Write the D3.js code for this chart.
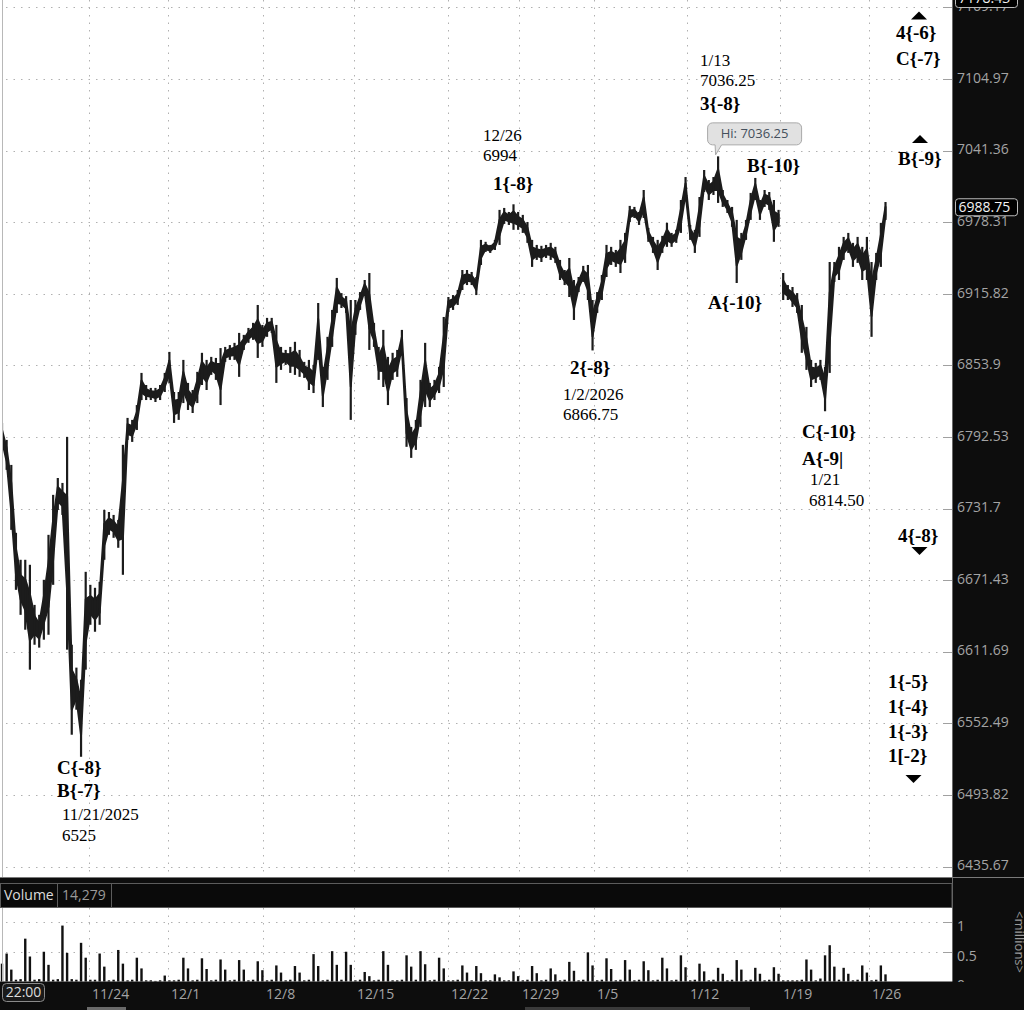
<!DOCTYPE html>
<html><head><meta charset="utf-8">
<script src="https://cdn.jsdelivr.net/npm/d3@7"></script>
<style>html,body{margin:0;padding:0;background:#0d0d0d;overflow:hidden}</style>
</head><body>
<svg id="c" width="1024" height="1010"></svg>
<script>
// ---- data ----
const highs = [6804.5,6790.0,6768.7,6711.2,6688.5,6688.5,6684.3,6650.7,6642.4,6671.7,
6709.5,6743.3,6757.6,6753.4,6792.6,6617.5,6598.5,6588.5,6678.4,6667.5,
6665.0,6670.0,6730.5,6728.8,6726.3,6722.1,6785.8,6808.8,6807.1,6819.8,
6847.4,6837.0,6834.5,6834.5,6837.0,6847.4,6865.5,6831.0,6831.0,6858.6,
6838.8,6832.7,6848.3,6864.7,6858.6,6861.2,6860.3,6868.8,6869.8,6871.4,
6873.3,6881.9,6880.2,6886.2,6890.6,6906.1,6888.8,6894.9,6894.9,6888.8,
6869.8,6867.2,6869.8,6874.2,6867.2,6856.9,6858.6,6854.3,6907.8,6852.6,
6878.5,6901.8,6929.6,6916.4,6913.8,6910.4,6910.4,6917.3,6927.8,6933.9,
6890.6,6869.8,6884.5,6861.2,6864.7,6867.2,6884.5,6825.8,6801.1,6807.1,
6841.4,6873.3,6838.8,6841.4,6852.6,6895.7,6913.0,6914.7,6919.1,6936.5,
6936.5,6934.8,6930.4,6962.8,6961.1,6958.4,6962.8,6989.1,6990.8,6987.3,
6994.0,6987.3,6984.7,6978.5,6962.8,6958.4,6957.6,6958.4,6960.2,6956.7,
6945.3,6936.5,6947.0,6927.8,6930.4,6940.1,6940.9,6910.4,6917.3,6932.2,
6958.4,6956.7,6954.0,6962.8,6968.9,6992.6,6991.7,6987.3,7006.6,6973.3,
6965.4,6962.8,6966.3,6977.7,6968.9,6971.6,6997.8,7018.0,6975.9,6971.6,
7000.4,7024.2,7015.4,7018.0,7036.25,7006.6,6997.8,6991.7,6980.3,6968.9,
6980.3,7004.0,7017.2,6997.8,7006.6,7004.8,6997.8,6989.1,6933.9,6923.4,
6921.7,6916.4,6906.1,6887.1,6858.6,6856.0,6858.6,6852.6,6943.5,6943.5,
6956.7,6965.4,6968.9,6960.2,6965.4,6956.7,6965.4,6943.5,6951.4,6977.7,
6996.0];
const lows = [6783.2,6764.5,6713.7,6663.3,6642.4,6630.0,6596.8,6617.5,6615.1,6621.7,
6625.8,6667.5,6730.5,6726.3,6613.4,6543.1,6563.7,6525.0,6596.8,6634.1,
6628.3,6634.1,6688.5,6709.5,6707.0,6698.6,6675.9,6790.0,6788.3,6798.5,
6824.1,6824.1,6824.1,6822.4,6824.1,6831.0,6838.8,6804.5,6807.1,6821.5,
6815.6,6813.0,6821.5,6837.0,6832.7,6845.7,6841.4,6819.8,6856.9,6858.6,
6858.6,6844.0,6867.2,6873.3,6875.9,6860.3,6869.8,6878.5,6881.9,6838.8,
6850.0,6854.3,6847.4,6845.7,6844.0,6843.1,6832.7,6830.1,6858.6,6818.1,
6841.4,6869.8,6899.2,6903.5,6899.2,6807.1,6880.2,6901.8,6914.7,6867.2,
6869.8,6841.4,6835.3,6819.8,6841.4,6844.0,6862.9,6784.1,6774.7,6781.5,
6801.1,6818.1,6818.1,6824.1,6830.1,6835.3,6900.0,6901.8,6906.1,6919.1,
6923.4,6923.4,6914.7,6940.9,6952.3,6951.4,6954.0,6958.4,6976.8,6975.9,
6971.6,6971.6,6968.9,6960.2,6939.2,6945.3,6943.5,6947.0,6945.3,6942.7,
6927.8,6923.4,6913.0,6893.1,6917.3,6926.1,6910.4,6866.75,6899.2,6910.4,
6930.4,6940.9,6939.2,6933.9,6942.7,6978.5,6982.0,6975.9,6982.0,6961.1,
6951.4,6936.5,6951.4,6956.7,6956.7,6960.2,6968.9,6997.8,6962.8,6951.4,
6965.4,7004.8,6997.8,7002.2,6995.2,6991.7,6986.4,6974.2,6925.2,6945.3,
6962.8,6980.3,6997.8,6980.3,6991.7,6989.1,6961.1,6974.2,6910.4,6910.4,
6904.4,6899.2,6864.7,6850.0,6835.3,6838.8,6841.4,6814.5,6847.4,6926.1,
6927.8,6945.3,6951.4,6939.2,6942.7,6927.8,6927.8,6878.5,6927.8,6939.2,
6980.3];
const volumes = [0.30,0.47,0.20,0.03,0.04,0.72,0.42,0.03,0.04,0.50,
0.28,0.03,0.04,0.94,0.48,0.04,0.03,0.65,0.40,0.03,
0.03,0.47,0.25,0.02,0.03,0.53,0.30,0.02,0.03,0.40,
0.22,0.02,0.02,0.01,0.02,0.10,0.02,0.02,0.03,0.40,
0.22,0.02,0.03,0.39,0.21,0.02,0.03,0.37,0.20,0.02,
0.03,0.36,0.20,0.02,0.03,0.34,0.19,0.02,0.03,0.27,
0.15,0.02,0.03,0.26,0.15,0.02,0.03,0.46,0.26,0.02,
0.03,0.51,0.28,0.03,0.50,0.28,0.02,0.03,0.16,0.09,
0.02,0.03,0.51,0.28,0.02,0.02,0.03,0.44,0.25,0.03,
0.51,0.29,0.02,0.03,0.40,0.22,0.02,0.02,0.03,0.27,
0.15,0.02,0.26,0.14,0.02,0.02,0.12,0.07,0.02,0.02,
0.17,0.09,0.02,0.03,0.26,0.14,0.02,0.03,0.22,0.12,
0.02,0.03,0.33,0.18,0.02,0.03,0.49,0.27,0.02,0.03,
0.39,0.21,0.02,0.03,0.36,0.20,0.02,0.03,0.34,0.19,
0.02,0.03,0.40,0.22,0.02,0.03,0.44,0.24,0.02,0.03,
0.30,0.17,0.02,0.03,0.23,0.13,0.02,0.03,0.36,0.20,
0.02,0.03,0.23,0.13,0.02,0.03,0.24,0.13,0.02,0.02,
0.02,0.02,0.03,0.37,0.20,0.02,0.05,0.44,0.61,0.25,
0.03,0.23,0.13,0.02,0.03,0.27,0.15,0.02,0.03,0.27,
0.12];
const lastPrice = 6988.75;
const topMarker = 7178.43;
const volumeReading = "14,279";
const priceTicks = [7169.17,7104.97,7041.36,6978.31,6915.82,6853.9,6792.53,6731.7,6671.43,6611.69,6552.49,6493.82,6435.67];
const priceTickLabels = ["7169.17","7104.97","7041.36","6978.31","6915.82","6853.9","6792.53","6731.7","6671.43","6611.69","6552.49","6493.82","6435.67"];
const dateTickIndex = [18.7,35.7,56.1,75.7,95.9,111.2,127.3,147.3,167.3,186.5];
const dateTickLabels = ["11/24","12/1","12/8","12/15","12/22","12/29","1/5","1/12","1/19","1/26"];
const volTicks = [1,0.5,0];
const volTickLabels = ["1","0.5","0"];
const gapIndex = 168;
const hiLabel = "Hi: 7036.25";
const hiIndex = 154;
const hiValue = 7036.25;

// ---- annotation layout (text labels drawn on the chart) ----
const labelLayout = [
 {t:"C{-8}",x:57,y:774,b:1},{t:"B{-7}",x:57,y:797,b:1},{t:"11/21/2025",x:62,y:820,b:0},{t:"6525",x:62,y:841,b:0},
 {t:"12/26",x:483,y:141,b:0},{t:"6994",x:483,y:161,b:0},{t:"1{-8}",x:493,y:190,b:1},
 {t:"1/13",x:700,y:66,b:0},{t:"7036.25",x:700,y:86,b:0},{t:"3{-8}",x:700,y:110,b:1},
 {t:"B{-10}",x:747,y:172,b:1},{t:"A{-10}",x:708,y:309,b:1},
 {t:"2{-8}",x:570,y:374,b:1},{t:"1/2/2026",x:563,y:400,b:0},{t:"6866.75",x:563,y:420,b:0},
 {t:"C{-10}",x:802,y:438,b:1},{t:"A{-9|",x:802,y:465,b:1},{t:"1/21",x:810,y:485,b:0},{t:"6814.50",x:809,y:506,b:0},
 {t:"4{-6}",x:896,y:39,b:1},{t:"C{-7}",x:896,y:65,b:1},{t:"B{-9}",x:898,y:165,b:1},{t:"4{-8}",x:898,y:542,b:1},
 {t:"1{-5}",x:888,y:688,b:1},{t:"1{-4}",x:888,y:713,b:1},{t:"1{-3}",x:888,y:738,b:1},{t:"1[-2}",x:888,y:762,b:1}
];
const markerLayout = [{x:919,y:15.5,up:1},{x:920,y:139,up:1},{x:919.5,y:551,up:0},{x:913.5,y:779,up:0}];

// ---- drawing ----
const svg = d3.select("#c");
const plotW = 952, priceH = 877, volTop = 908, volBot = 981.5;
const dark = "#0d0d0d", ink = "#1c1c1c";
const x = d3.scaleLinear().domain([0, highs.length - 1]).range([2, 885.5]);
const y = d3.scaleLog().domain([6435.67, 7104.97]).range([866.5, 79]);
const yv = d3.scaleLinear().domain([0, 1]).range([volBot, 922]);

svg.append("rect").attr("width",1024).attr("height",1010).attr("fill",dark);
svg.append("rect").attr("x",0).attr("y",0).attr("width",plotW).attr("height",priceH).attr("fill","#fff");
svg.append("rect").attr("x",0).attr("y",volTop).attr("width",plotW).attr("height",volBot-volTop).attr("fill","#fff");

// grids
const grid = svg.append("g").attr("stroke","#b0b0b0").attr("stroke-width",1).attr("stroke-dasharray","1.5,6");
grid.selectAll("line.vp").data(dateTickIndex).join("line")
  .attr("x1",d=>Math.round(x(d))+0.5).attr("x2",d=>Math.round(x(d))+0.5).attr("y1",0).attr("y2",priceH);
grid.selectAll("line.vv").data(dateTickIndex).join("line").attr("class","vv")
  .attr("x1",d=>Math.round(x(d))+0.5).attr("x2",d=>Math.round(x(d))+0.5).attr("y1",volTop).attr("y2",volBot);
grid.selectAll("line.hp").data(priceTicks).join("line").attr("class","hp")
  .attr("x1",6).attr("x2",942).attr("y1",d=>Math.round(y(d))+0.5).attr("y2",d=>Math.round(y(d))+0.5);
grid.selectAll("line.hv").data(volTicks.filter(d=>d>0)).join("line").attr("class","hv")
  .attr("x1",6).attr("x2",942).attr("y1",d=>Math.round(yv(d))+0.5).attr("y2",d=>Math.round(yv(d))+0.5);
const tk = svg.append("g").attr("stroke","#a0a0a0");
tk.selectAll("line.a").data(priceTicks).join("line")
  .attr("x1",943).attr("x2",952).attr("y1",d=>Math.round(y(d))+0.5).attr("y2",d=>Math.round(y(d))+0.5);
tk.selectAll("line.b").data(volTicks.filter(d=>d>0)).join("line").attr("class","b")
  .attr("x1",943).attr("x2",952).attr("y1",d=>Math.round(yv(d))+0.5).attr("y2",d=>Math.round(yv(d))+0.5);

// price bars: an inner band through the middle of each hi-lo range, plus the full hi-lo bar
svg.append("clipPath").attr("id","pc").append("rect").attr("x",3).attr("y",0).attr("width",plotW-3).attr("height",priceH);
const pg = svg.append("g").attr("clip-path","url(#pc)");
const bars = highs.map((h,i)=>({i, h, l: lows[i]}));
const band = d3.area().x(d=>x(d.i))
  .y0(d=>y(d.h)+(y(d.l)-y(d.h))*0.72).y1(d=>y(d.h)+(y(d.l)-y(d.h))*0.28);
[bars.slice(0,gapIndex), bars.slice(gapIndex)].forEach(seg=>{
  pg.append("path").attr("d",band(seg)).attr("fill",ink).attr("stroke",ink).attr("stroke-width",2).attr("stroke-linejoin","round");
});
pg.selectAll("line.bar").data(bars).join("line").attr("class","bar")
  .attr("x1",d=>x(d.i)).attr("x2",d=>x(d.i)).attr("y1",d=>y(d.h)).attr("y2",d=>y(d.l))
  .attr("stroke",ink).attr("stroke-width",2.2);

// volume bars
svg.append("g").selectAll("rect").data(volumes).join("rect")
  .attr("x",(d,i)=>x(i)-1.2).attr("width",2.4)
  .attr("y",d=>yv(d)).attr("height",d=>volBot-yv(d)).attr("fill","#111");

// left border
svg.append("line").attr("x1",2.5).attr("x2",2.5).attr("y1",0).attr("y2",priceH).attr("stroke","#b8b8b8");
svg.append("line").attr("x1",2.5).attr("x2",2.5).attr("y1",volTop).attr("y2",volBot).attr("stroke","#b8b8b8");

// annotations
const ann = svg.append("g").attr("font-family","'Liberation Serif','Times New Roman',serif").attr("fill","#000");
ann.selectAll("text").data(labelLayout).join("text")
  .attr("x",d=>d.x).attr("y",d=>d.y).attr("font-size",d=>d.b?19:17).attr("font-weight",d=>d.b?"bold":"normal")
  .text(d=>d.t);
ann.selectAll("path").data(markerLayout).join("path")
  .attr("d",d=>d.up ? `M${d.x},${d.y-4}L${d.x+8},${d.y+4}L${d.x-8},${d.y+4}Z` : `M${d.x-8},${d.y-4}L${d.x+8},${d.y-4}L${d.x},${d.y+4}Z`)
  .attr("fill","#000");

// Hi callout
const hx = x(hiIndex), hy = y(hiValue);
const cg = svg.append("g");
cg.append("path").attr("d",`M${hx-5.5},${hy-33.5} h84 a5,5 0 0 1 5,5 v12 a5,5 0 0 1 -5,5 h-75 l-6,10 l-0.5,-10 h-2.5 a5,5 0 0 1 -5,-5 v-12 a5,5 0 0 1 5,-5 z`)
  .attr("fill","#e1e1e1").attr("stroke","#a9a9a9");
cg.append("text").attr("x",hx+36.5).attr("y",hy-21.5).attr("text-anchor","middle").attr("dominant-baseline","middle")
  .attr("font-family","'Open Sans',sans-serif").attr("font-size",13).attr("fill","#44505c").text(hiLabel);

// right panel
svg.append("rect").attr("x",plotW).attr("y",0).attr("width",1024-plotW).attr("height",1010).attr("fill",dark);
svg.append("line").attr("x1",plotW+0.5).attr("x2",plotW+0.5).attr("y1",0).attr("y2",volBot).attr("stroke","#6a6a6a");
const ax = svg.append("g").attr("font-family","'Open Sans',sans-serif").attr("font-size",14).attr("fill","#a4a4a4");
ax.selectAll("text.p").data(priceTicks).join("text").attr("class","p")
  .attr("x",957).attr("y",d=>y(d)).attr("dominant-baseline","middle").text((d,i)=>priceTickLabels[i]);
ax.selectAll("text.v").data(volTicks).join("text").attr("class","v")
  .attr("x",957).attr("y",d=>yv(d)+5).attr("dominant-baseline","middle").text((d,i)=>volTickLabels[i]);
svg.append("text").attr("transform","translate(1018,942) rotate(90)").attr("text-anchor","middle").attr("dominant-baseline","middle")
  .attr("font-family","'Open Sans',sans-serif").attr("font-size",13).attr("fill","#9a9a9a").text("<millions>");

// value boxes
function valueBox(v, yc){
  const g = svg.append("g");
  g.append("rect").attr("x",955.5).attr("y",yc-8.5).attr("width",62).attr("height",17).attr("rx",3)
    .attr("fill","#000").attr("stroke","#bdbdbd");
  g.append("text").attr("x",958.5).attr("y",yc+0.5).attr("dominant-baseline","middle")
    .attr("font-family","'Open Sans',sans-serif").attr("font-size",14).attr("fill","#f2f2f2").text(v.toFixed(2));
}
valueBox(topMarker, -1);
valueBox(lastPrice, y(lastPrice)-3);

// volume header band
svg.append("rect").attr("x",0).attr("y",priceH).attr("width",plotW).attr("height",volTop-priceH).attr("fill",dark);
svg.append("line").attr("x1",0).attr("x2",1024).attr("y1",priceH+0.5).attr("y2",priceH+0.5).attr("stroke","#7a7a7a");
svg.append("rect").attr("x",0.5).attr("y",883.5).attr("width",plotW-0.5).attr("height",24).attr("fill","#0a0a0a").attr("stroke","#5c5c5c");
svg.append("line").attr("x1",57.5).attr("x2",57.5).attr("y1",883.5).attr("y2",907.5).attr("stroke","#5c5c5c");
svg.append("line").attr("x1",111.5).attr("x2",111.5).attr("y1",883.5).attr("y2",907.5).attr("stroke","#5c5c5c");
svg.append("text").attr("x",4).attr("y",896).attr("dominant-baseline","middle").attr("font-family","'Open Sans',sans-serif")
  .attr("font-size",14).attr("fill","#dcdcdc").text("Volume");
svg.append("text").attr("x",62).attr("y",896).attr("dominant-baseline","middle").attr("font-family","'Open Sans',sans-serif")
  .attr("font-size",14).attr("fill","#9a9a9a").text(volumeReading);

// bottom date axis
svg.append("rect").attr("x",0).attr("y",volBot+0.5).attr("width",1024).attr("height",1010-volBot).attr("fill",dark);
svg.append("g").attr("font-family","'Open Sans',sans-serif").attr("font-size",14).attr("fill","#a4a4a4")
  .selectAll("text").data(dateTickIndex).join("text")
  .attr("x",d=>Math.round(x(d))+3).attr("y",995).attr("dominant-baseline","middle").text((d,i)=>dateTickLabels[i]);
svg.append("rect").attr("x",2.5).attr("y",983.5).attr("width",42).attr("height",18).attr("rx",4).attr("fill","#1a1a1a").attr("stroke","#8a8a8a");
svg.append("text").attr("x",23.5).attr("y",993).attr("text-anchor","middle").attr("dominant-baseline","middle")
  .attr("font-family","'Open Sans',sans-serif").attr("font-size",14).attr("fill","#dcdcdc").text("22:00");
svg.append("rect").attr("x",87).attr("y",1007).attr("width",39).attr("height",3).attr("fill","#6a6a6a");
svg.append("rect").attr("x",525).attr("y",1007).attr("width",225).attr("height",3).attr("fill","#3a3a3a");
</script>
</body></html>
